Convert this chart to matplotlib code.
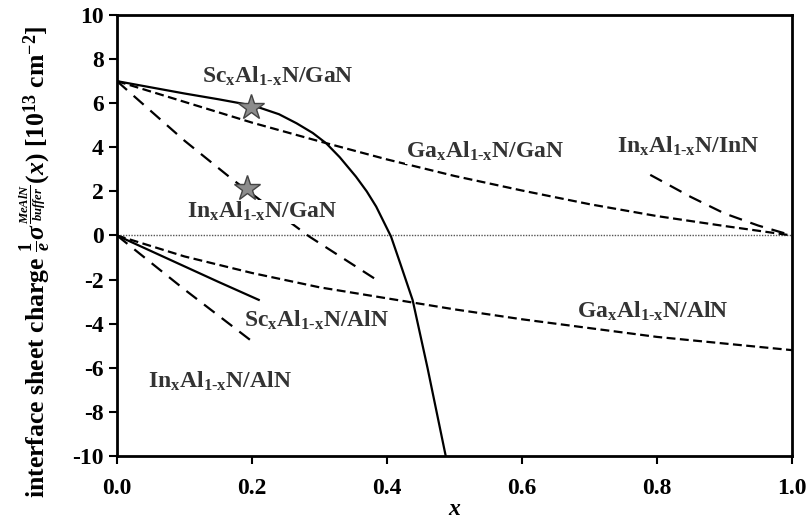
import matplotlib
matplotlib.use("Agg")
from matplotlib import pyplot as plt

# curves
sc_gan_x = [0.0, 0.05, 0.1, 0.15, 0.2, 0.211, 0.24, 0.266, 0.29, 0.31, 0.33,
            0.354, 0.37, 0.384, 0.406, 0.42, 0.438, 0.46, 0.487]
sc_gan_y = [7.0, 6.72, 6.44, 6.18, 5.9, 5.8, 5.5, 5.09, 4.65, 4.18, 3.55,
            2.67, 2.0, 1.31, -0.05, -1.3, -2.93, -6.0, -10.0]

ga_gan_x = [0.0, 0.1, 0.2, 0.3, 0.4, 0.5, 0.6, 0.7, 0.8, 0.9, 1.0]
ga_gan_y = [7.0, 6.06, 5.12, 4.27, 3.45, 2.7, 2.04, 1.42, 0.88, 0.43, 0.0]

in_gan_x = [0.0, 0.1, 0.172, 0.285, 0.389]
in_gan_y = [7.0, 4.3, 2.52, -0.05, -2.1]

in_inn_x = [0.79, 0.85, 0.9, 0.95, 1.0]
in_inn_y = [2.75, 1.75, 1.0, 0.45, 0.0]

ga_aln_x = [0.0, 0.1, 0.2, 0.3, 0.4, 0.5, 0.6, 0.7, 0.8, 0.9, 1.0]
ga_aln_y = [0.0, -0.95, -1.7, -2.35, -2.85, -3.35, -3.8, -4.2, -4.6, -4.9, -5.2]

sc_aln_x = [0.0, 0.05, 0.1, 0.15, 0.21]
sc_aln_y = [0.0, -0.7, -1.4, -2.1, -2.92]

in_aln_x = [0.0, 0.1, 0.2]
in_aln_y = [0.0, -2.45, -4.8]

star_x = [0.199, 0.192]
star_y = [5.84, 2.14]

labels = [r"Sc$_\mathbf{x}$Al$_\mathbf{1\text{-}x}$N/GaN", r"In$_\mathbf{x}$Al$_\mathbf{1\text{-}x}$N/GaN",
          r"Ga$_\mathbf{x}$Al$_\mathbf{1\text{-}x}$N/GaN", r"In$_\mathbf{x}$Al$_\mathbf{1\text{-}x}$N/InN",
          r"Sc$_\mathbf{x}$Al$_\mathbf{1\text{-}x}$N/AlN", r"In$_\mathbf{x}$Al$_\mathbf{1\text{-}x}$N/AlN",
          r"Ga$_\mathbf{x}$Al$_\mathbf{1\text{-}x}$N/AlN"]
label_x = [0.238, 0.215, 0.545, 0.846, 0.296, 0.152, 0.794]
label_y = [7.2, 1.08, 3.8, 4.03, -3.83, -6.63, -3.45]

x_ticks = [0.0, 0.2, 0.4, 0.6, 0.8, 1.0]
y_ticks = list(range(-10, 11, 2))


def main():
    plt.rcParams["font.family"] = ["Liberation Serif", "DejaVu Serif"]
    plt.rcParams["font.weight"] = "bold"
    plt.rcParams["axes.unicode_minus"] = False
    plt.rcParams["mathtext.fontset"] = "custom"
    plt.rcParams["mathtext.rm"] = "Liberation Serif:bold"
    plt.rcParams["mathtext.bf"] = "Liberation Serif:bold"
    plt.rcParams["mathtext.it"] = "Liberation Serif:bold:italic"

    fig = plt.figure(figsize=(8.09, 5.21), dpi=100)
    ax = fig.add_axes([0.1446, 0.1248, 0.8344, 0.8464])

    ax.axhline(0, color="#555555", lw=1.0, ls=(0, (1, 1)), zorder=1)
    ax.plot(sc_gan_x, sc_gan_y, color="black", lw=1.6, zorder=3)
    ax.plot(ga_gan_x, ga_gan_y, color="black", lw=1.6, dashes=(4, 2), zorder=3)
    ax.plot(in_gan_x, in_gan_y, color="black", lw=1.6, dashes=(6, 4), zorder=2)
    ax.plot(in_inn_x, in_inn_y, color="black", lw=1.6, dashes=(6, 4), zorder=3)
    ax.plot(ga_aln_x, ga_aln_y, color="black", lw=1.6, dashes=(4, 2), zorder=3)
    ax.plot(sc_aln_x, sc_aln_y, color="black", lw=1.6, zorder=3)
    ax.plot(in_aln_x, in_aln_y, color="black", lw=1.6, dashes=(6, 4), zorder=3)
    ax.plot(star_x, star_y, ls="none", marker="*", markersize=19,
            markerfacecolor="#8c8c8c", markeredgecolor="#444444",
            markeredgewidth=1.0, zorder=5)

    for t, tx, ty in zip(labels, label_x, label_y):
        ax.text(tx, ty, t, ha="center", va="center", fontsize=17,
                color="#333333", fontweight="bold", zorder=4,
                bbox=dict(facecolor="white", edgecolor="none", pad=0.3))

    ax.set_xlim(0, 1)
    ax.set_ylim(-10, 10)
    ax.set_xticks(x_ticks)
    ax.set_xticklabels([f"{v:.1f}" for v in x_ticks])
    ax.set_yticks(y_ticks)
    ax.tick_params(direction="out", length=6, width=1.5, labelsize=17)
    ax.tick_params(axis="x", pad=10)
    for s in ax.spines.values():
        s.set_linewidth(2)

    ax.set_xlabel("x", fontsize=17, fontstyle="italic", fontweight="bold", labelpad=0)
    ax.set_ylabel(r"interface sheet charge $\frac{1}{e}\sigma^{\frac{MeAlN}{buffer}}(x)$ [10$^{13}$ cm$^{-2}$]",
                  fontsize=18.5, fontweight="bold")
    ax.yaxis.set_label_coords(-0.097, 0.44)

    fig.savefig("out.png", dpi=100)


if __name__ == "__main__":
    main()
